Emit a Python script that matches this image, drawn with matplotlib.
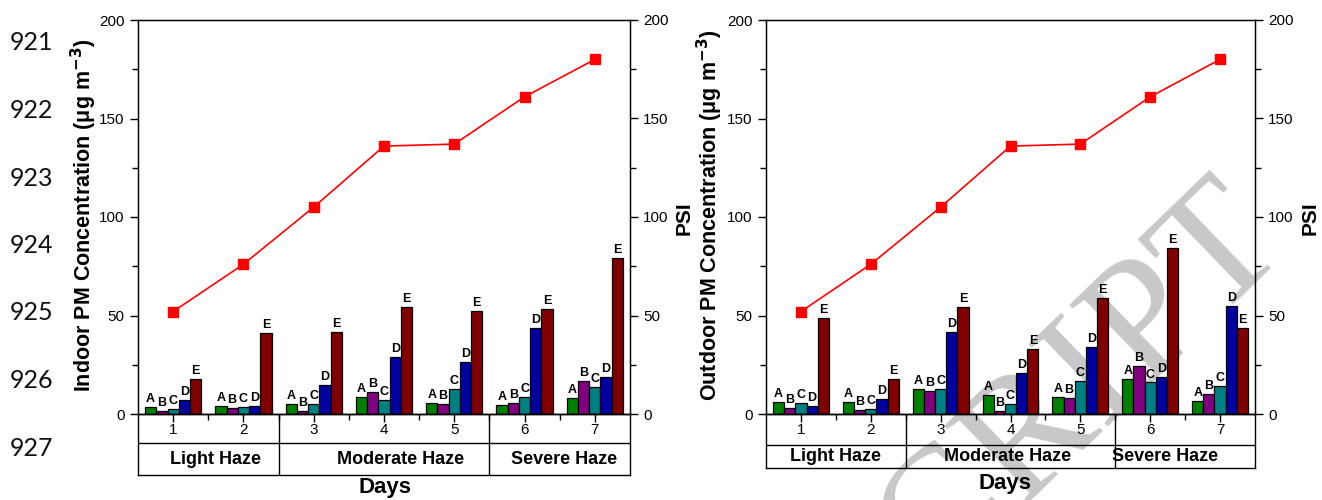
import matplotlib.pyplot as plt
from matplotlib.ticker import MultipleLocator

plt.rcParams['font.family'] = ['Liberation Sans', 'DejaVu Sans']

# data
days = [1, 2, 3, 4, 5, 6, 7]
sites = ['A', 'B', 'C', 'D', 'E']
psi = [52, 76, 105, 136, 137, 161, 180]

indoor_A = [3.4, 4.2, 5.1, 8.4, 5.6, 4.6, 8.1]
indoor_B = [1.7, 3.0, 1.3, 11.2, 4.9, 5.6, 16.8]
indoor_C = [2.5, 3.4, 5.1, 7.3, 12.7, 8.4, 13.5]
indoor_D = [7.1, 4.2, 14.9, 29.1, 26.4, 43.8, 18.6]
indoor_E = [17.8, 41.3, 41.6, 54.3, 52.4, 53.1, 79.2]

outdoor_A = [6.2, 6.1, 12.7, 9.5, 8.8, 17.8, 6.8]
outdoor_B = [2.9, 1.8, 11.7, 1.7, 8.1, 24.4, 10.2]
outdoor_C = [5.6, 2.7, 12.7, 5.1, 16.8, 16.0, 14.2]
outdoor_D = [4.1, 7.8, 41.6, 21.0, 34.0, 18.9, 54.6]
outdoor_E = [48.7, 17.8, 54.5, 32.8, 59.0, 84.3, 43.8]

haze_levels = ['Light Haze', 'Moderate Haze', 'Severe Haze']
dividers = [2.5, 5.5]
line_numbers = ['921', '922', '923', '924', '925', '926', '927']

colors = ['#008000', '#800080', '#008080', '#0000a0', '#800000']

W, H = 1322, 500
fig = plt.figure(figsize=(W / 100, H / 100), dpi=100)


def px(x, y):
    return x / W, 1 - y / H


def panel(x0, x1, series, ylabel, tab_bottom, tab_mid, haze_x, days_xy,
          ylabel_x, psi_x):
    left, top = px(x0, 20)
    right, bottom = px(x1, 414)
    ax = fig.add_axes([left, bottom, right - left, top - bottom])
    ax.set_facecolor('none')
    bw = 0.16
    for i, vals in enumerate(series):
        xs = [d + (i - 2) * bw for d in days]
        ax.bar(xs, vals, width=bw, color=colors[i], edgecolor='black',
               linewidth=0.9, zorder=2)
        for x, v in zip(xs, vals):
            ax.text(x, v + 1.0, sites[i], ha='center', va='bottom',
                    fontsize=9, fontweight='bold', zorder=3)
    ax.set_xlim(0.5, 7.5)
    ax.set_ylim(0, 200)
    ax.set_xticks(days)
    ax.set_xticklabels([])
    ax.set_xticks([d + 0.5 for d in days[:-1]], minor=True)
    ax.yaxis.set_major_locator(MultipleLocator(50))
    ax.yaxis.set_minor_locator(MultipleLocator(25))
    ax.tick_params(axis='both', which='major', direction='out', length=6,
                   width=1, labelsize=11)
    ax.tick_params(axis='both', which='minor', direction='out', length=4,
                   width=1)
    for s in ax.spines.values():
        s.set_linewidth(1)

    ax2 = ax.twinx()
    ax2.plot(days, psi, color='#ff0000', lw=1.2, marker='s', ms=7,
             zorder=4)
    ax2.set_ylim(0, 200)
    ax2.yaxis.set_major_locator(MultipleLocator(50))
    ax2.yaxis.set_minor_locator(MultipleLocator(25))
    ax2.tick_params(axis='y', which='major', direction='out', length=6,
                    width=1, labelsize=11)
    ax2.tick_params(axis='y', which='minor', direction='out', length=4,
                    width=1)

    # category table under the axis
    tl, tb = px(x0, tab_bottom)
    tab = fig.add_axes([tl, tb, right - left, bottom - tb])
    tab.set_facecolor('none')
    tab.set_xlim(0.5, 7.5)
    tab.set_ylim(0, 1)
    tab.set_xticks([])
    tab.set_yticks([])
    for s in tab.spines.values():
        s.set_linewidth(1)
    mid = tab_mid
    tab.axhline(mid, color='black', lw=1)
    for d in dividers:
        tab.axvline(d, color='black', lw=1)
    for d in days:
        tab.text(d, (1 + mid) / 2 - 0.02, str(d), ha='center', va='center',
                 fontsize=11)
    for name, hx in zip(haze_levels, haze_x):
        tab.text(hx, mid / 2, name, ha='center', va='center', fontsize=13,
                 fontweight='bold')

    fig.text(*px(*days_xy), 'Days', ha='center', va='center', fontsize=16,
             fontweight='bold')
    fig.text(*px(ylabel_x, 215), ylabel, rotation=90, ha='center',
             va='center', fontsize=15.5, fontweight='bold')
    fig.text(*px(psi_x, 218), 'PSI', rotation=90, ha='center', va='center',
             fontsize=15, fontweight='bold')


# watermark behind the right panel
fig.text(*px(1290, 246), 'MANUSCRIPT', ha='right', va='baseline',
         rotation=44, rotation_mode='anchor', fontsize=125,
         family='Liberation Serif', color='#c8c8c8', zorder=-1)

panel(138, 630,
      [indoor_A, indoor_B, indoor_C, indoor_D, indoor_E],
      'Indoor PM Concentration (\u03bcg m$^{\\mathbf{-3}}$)',
      475, 0.52, [1.6, 4.23, 6.56], (385, 488), 84, 684)
panel(766, 1255,
      [outdoor_A, outdoor_B, outdoor_C, outdoor_D, outdoor_E],
      'Outdoor PM Concentration (\u03bcg m$^{\\mathbf{-3}}$)',
      468, 0.43, [1.5, 3.96, 6.21], (1005, 483), 710, 1310)

# manuscript line numbers down the left margin
for i, n in enumerate(line_numbers):
    fig.text(*px(10, 43 + 67.5 * i), n, ha='left', va='center', fontsize=18,
             family='Lato', color='#111111')

fig.savefig('out.png', dpi=100)
